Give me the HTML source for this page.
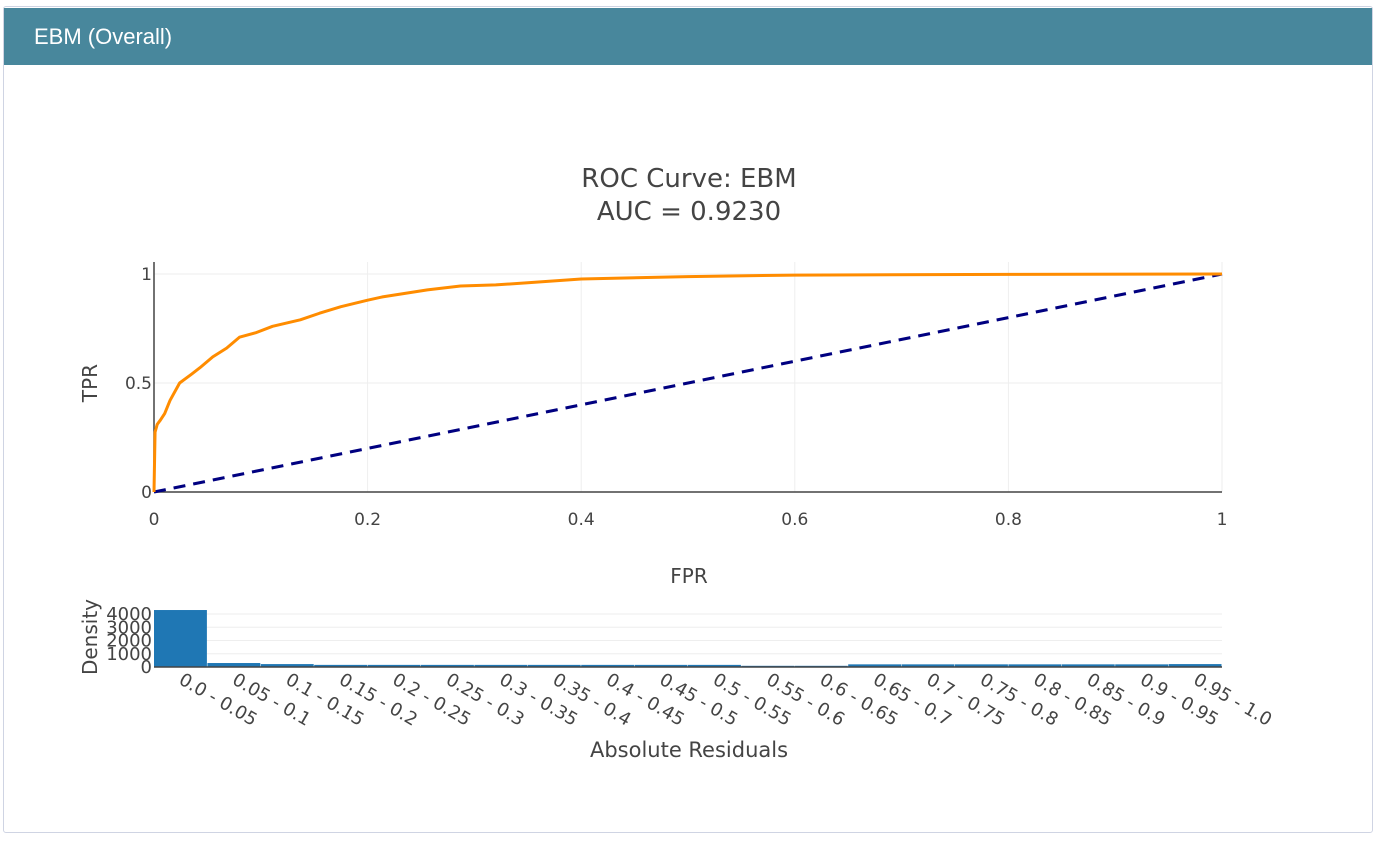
<!DOCTYPE html>
<html><head><meta charset="utf-8"><style>
body{margin:0;width:1378px;height:848px;background:#fff;font-family:"Liberation Sans",sans-serif;overflow:hidden}
#card{position:absolute;left:3px;top:6px;width:1368px;height:825px;border:1px solid #cfd4e3;border-radius:3px;background:#fff}
#hdr{position:absolute;left:0;top:1px;width:1368px;height:57px;background:#48879c;color:#fff;font-size:22px;line-height:57px;padding-left:30px;box-sizing:border-box}
svg{position:absolute;left:0;top:0}
</style></head><body>
<div id="card"><div id="hdr">EBM (Overall)</div></div>
<svg id="chart" width="1378" height="848" font-family="DejaVu Sans, sans-serif"></svg>
<script>
const rocFpr=[0,0.001,0.003,0.006,0.01,0.015,0.024,0.035,0.043,0.055,0.068,0.08,0.095,0.111,0.137,0.155,0.175,0.2,0.214,0.256,0.287,0.32,0.35,0.4,0.5,0.6,0.8,1];
const rocTpr=[0,0.275,0.31,0.33,0.36,0.42,0.5,0.54,0.57,0.62,0.66,0.71,0.73,0.76,0.79,0.82,0.85,0.88,0.895,0.927,0.945,0.95,0.96,0.977,0.988,0.995,0.998,1];
const xTicks=[0,0.2,0.4,0.6,0.8,1];
const xTickLabels=["0","0.2","0.4","0.6","0.8","1"];
const yTicks=[0,0.5,1];
const yTickLabels=["0","0.5","1"];
const binLabels=["0.0 - 0.05","0.05 - 0.1","0.1 - 0.15","0.15 - 0.2","0.2 - 0.25","0.25 - 0.3","0.3 - 0.35","0.35 - 0.4","0.4 - 0.45","0.45 - 0.5","0.5 - 0.55","0.55 - 0.6","0.6 - 0.65","0.65 - 0.7","0.7 - 0.75","0.75 - 0.8","0.8 - 0.85","0.85 - 0.9","0.9 - 0.95","0.95 - 1.0"];
const binCounts=[4300,300,220,160,160,160,160,160,160,160,160,90,90,200,200,200,200,200,200,220];
const hTicks=[0,1000,2000,3000,4000];
const NS="http://www.w3.org/2000/svg";
const svg=document.getElementById('chart');
function mk(t,a,p){const e=document.createElementNS(NS,t);for(const k in a)e.setAttribute(k,a[k]);(p||svg).appendChild(e);return e;}
const X0=154,X1=1222,Y0=492,Y1=274;
const sx=v=>X0+v*(X1-X0), sy=v=>Y0-v*(Y0-Y1);
xTicks.forEach((v,i)=>{if(v>0){const g=mk('line',{x1:sx(v),x2:sx(v),y1:Y1-12,y2:Y0,stroke:'#eee'});}
const t=mk('text',{x:sx(v),y:Y0+33,'text-anchor':'middle','font-size':17,fill:'#444'});t.textContent=xTickLabels[i];});
yTicks.forEach((v,i)=>{if(v>0){const g=mk('line',{x1:X0,x2:X1,y1:sy(v),y2:sy(v),stroke:'#eee'});}
const t=mk('text',{x:X0-2,y:sy(v)+6,'text-anchor':'end','font-size':17,fill:'#444'});t.textContent=yTickLabels[i];});
let a=mk('line',{x1:X0,x2:X0,y1:Y1-12,y2:Y0,stroke:'#444','stroke-width':1.5});
a=mk('line',{x1:X0,x2:X1,y1:Y0,y2:Y0,stroke:'#444','stroke-width':1.5});
let d=mk('line',{x1:sx(0),y1:sy(0),x2:sx(1),y2:sy(1),stroke:'#000080','stroke-width':3,'stroke-dasharray':'12,8'});
let p=mk('path',{d:rocFpr.map((f,i)=>(i?'L':'M')+sx(f)+','+sy(rocTpr[i])).join(''),fill:'none',stroke:'#ff8c00','stroke-width':3,'stroke-linejoin':'round'});
let t=mk('text',{x:689,y:187,'text-anchor':'middle','font-size':26,fill:'#444'});t.textContent='ROC Curve: EBM';
t=mk('text',{x:689,y:220,'text-anchor':'middle','font-size':26,fill:'#444'});t.textContent='AUC = 0.9230';
t=mk('text',{x:97,y:383,'text-anchor':'middle','font-size':20,fill:'#444',transform:'rotate(-90 97 383)'});t.textContent='TPR';
t=mk('text',{x:689,y:583,'text-anchor':'middle','font-size':20,fill:'#444'});t.textContent='FPR';
const H0=667,HK=0.01325;const hy=v=>H0-v*HK;const bw=(X1-X0)/binCounts.length;
hTicks.forEach(v=>{if(v>0){const g=mk('line',{x1:X0,x2:X1,y1:hy(v),y2:hy(v),stroke:'#eee'});}
const l=mk('text',{x:X0-2,y:hy(v)+6,'text-anchor':'end','font-size':18,fill:'#444'});l.textContent=String(v);});
binCounts.forEach((c,i)=>{const r=mk('rect',{x:X0+i*bw,y:hy(c),width:bw-0.5,height:H0-hy(c),fill:'#1f77b4'});
const cx=X0+(i+0.5)*bw-3,cy=H0+16;const l=mk('text',{x:cx,y:cy,'font-size':18,fill:'#444',transform:'rotate(30 '+cx+' '+cy+')'});l.textContent=binLabels[i];});
a=mk('line',{x1:X0,x2:X1,y1:H0,y2:H0,stroke:'#444','stroke-width':1.5});
t=mk('text',{x:97,y:637,'text-anchor':'middle','font-size':20,fill:'#444',transform:'rotate(-90 97 637)'});t.textContent='Density';
t=mk('text',{x:689,y:757,'text-anchor':'middle','font-size':21,fill:'#444'});t.textContent='Absolute Residuals';
</script>
</body></html>
